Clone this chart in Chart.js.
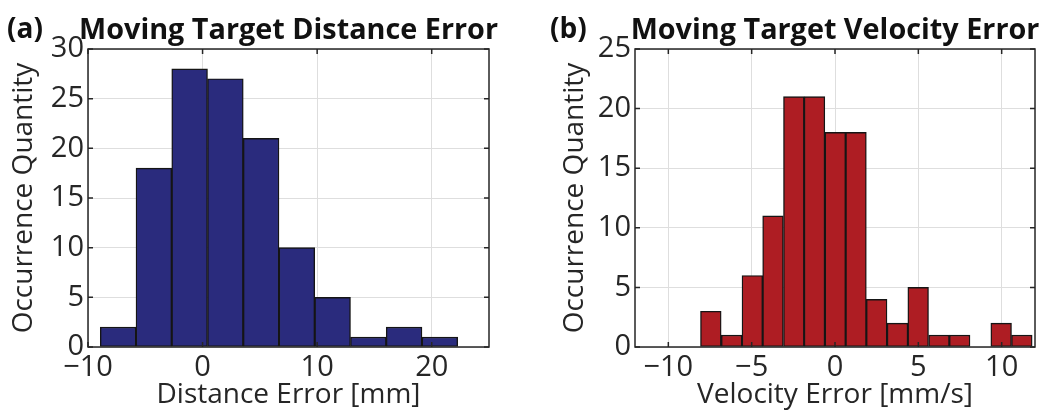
<!DOCTYPE html>
<html>
<head>
<meta charset="utf-8">
<script src="https://cdn.jsdelivr.net/npm/chart.js@4"></script>
<style>
  body { margin: 0; background: #fff; }
  .panel { position: absolute; top: 0; height: 411px; }
  #panelA { left: 0; width: 520px; }
  #panelB { left: 520px; width: 525px; }
</style>
</head>
<body>
<div class="panel" id="panelA"><canvas id="distanceChart"></canvas></div>
<div class="panel" id="panelB"><canvas id="velocityChart"></canvas></div>
<script>
// Distance error histogram: bin centres [mm] and counts
const distanceBins = [-7.37, -4.25, -1.13, 1.99, 5.11, 8.23, 11.35, 14.47, 17.59, 20.71];
const distanceCounts = [2, 18, 28, 27, 21, 10, 5, 1, 2, 1];
const distanceTicksX = [-10, 0, 10, 20];
const distanceTicksY = [0, 5, 10, 15, 20, 25, 30];

// Velocity error histogram: bin centres [mm/s] and counts
const velocityBins = [-7.45, -6.20, -4.96, -3.72, -2.47, -1.23, 0.02, 1.26, 2.50, 3.75, 4.99, 6.24, 7.48, 8.72, 9.97, 11.21];
const velocityCounts = [3, 1, 6, 11, 21, 21, 18, 18, 4, 2, 5, 1, 1, 0, 2, 1];
const velocityTicksX = [-10, -5, 0, 5, 10];
const velocityTicksY = [0, 5, 10, 15, 20, 25];

const FONT = "'Open Sans', sans-serif";
const INK = '#262626';
Chart.defaults.font.family = FONT;

// Box around the plot plus short inward tick marks on all four sides
const axesBox = {
    id: 'axesBox',
    afterDatasetsDraw(chart) {
        const { ctx, chartArea: a, scales: { x, y } } = chart;
        const len = 5;
        ctx.save();
        ctx.strokeStyle = INK;
        ctx.lineWidth = 1.5;
        ctx.beginPath();
        x.ticks.forEach(t => {
            const px = x.getPixelForValue(t.value);
            ctx.moveTo(px, a.bottom); ctx.lineTo(px, a.bottom - len);
            ctx.moveTo(px, a.top); ctx.lineTo(px, a.top + len);
        });
        y.ticks.forEach(t => {
            const py = y.getPixelForValue(t.value);
            ctx.moveTo(a.left, py); ctx.lineTo(a.left + len, py);
            ctx.moveTo(a.right, py); ctx.lineTo(a.right - len, py);
        });
        ctx.stroke();
        ctx.strokeRect(a.left, a.top, a.right - a.left, a.bottom - a.top);
        ctx.restore();
    }
};

// Panel letter on the left, bold title centred over the plot area
// (drawn by hand so the title is allowed to run wider than the axes)
const panelHeading = {
    id: 'panelHeading',
    afterDraw(chart, args, opts) {
        const { ctx, chartArea: a } = chart;
        ctx.save();
        ctx.fillStyle = '#111';
        ctx.textBaseline = 'alphabetic';
        ctx.font = `bold 28px ${FONT}`;
        ctx.textAlign = 'left';
        ctx.fillText(opts.letter, opts.letterX, 38);
        ctx.font = `bold 28.8px ${FONT}`;
        ctx.textAlign = 'center';
        ctx.fillText(opts.title, (a.left + a.right) / 2, 39);
        ctx.restore();
    }
};

const minusSign = v => String(v).replace('-', '\u2212');

function histogram(canvasId, cfg) {
    const ctx = document.getElementById(canvasId).getContext('2d');
    return new Chart(ctx, {
        type: 'bar',
        data: {
            datasets: [{
                data: cfg.bins.map((b, i) => ({ x: b, y: cfg.counts[i] })),
                backgroundColor: cfg.color,
                borderColor: '#151515',
                borderWidth: 1.4,
                borderSkipped: false,
                barPercentage: 1,
                categoryPercentage: 1
            }]
        },
        plugins: [axesBox, panelHeading],
        options: {
            responsive: true,
            maintainAspectRatio: false,
            animation: false,
            layout: { padding: { left: 0, right: cfg.padRight, top: 49, bottom: 0 } },
            plugins: {
                legend: { display: false },
                tooltip: { enabled: false },
                panelHeading: { letter: cfg.letter, letterX: cfg.letterX, title: cfg.title }
            },
            scales: {
                x: {
                    type: 'linear',
                    min: cfg.xMin,
                    max: cfg.xMax,
                    offset: false,
                    afterBuildTicks: s => { s.ticks = cfg.ticksX.map(v => ({ value: v })); },
                    afterFit: s => { s.height = 64; },
                    grid: { color: '#dedede', drawTicks: false, offset: false },
                    border: { display: false },
                    ticks: { color: INK, font: { size: 29 }, padding: 3, maxRotation: 0, callback: minusSign },
                    title: { display: true, text: cfg.xTitle, color: INK, font: { size: 28 }, padding: { top: 0, bottom: -1 } }
                },
                y: {
                    min: 0,
                    max: cfg.yMax,
                    afterBuildTicks: s => { s.ticks = cfg.ticksY.map(v => ({ value: v })); },
                    afterFit: s => { s.width = cfg.yWidth; },
                    grid: { color: '#dedede', drawTicks: false },
                    border: { display: false },
                    ticks: { color: INK, font: { size: 29 }, padding: 4 },
                    title: { display: true, text: 'Occurrence Quantity', color: INK, font: { size: 28 }, padding: { top: cfg.yTitlePad, bottom: 0 } }
                }
            }
        }
    });
}

histogram('distanceChart', {
    bins: distanceBins,
    counts: distanceCounts,
    color: '#2a2b7d',
    xMin: -10, xMax: 25, yMax: 30,
    ticksX: distanceTicksX,
    ticksY: distanceTicksY,
    title: 'Moving Target Distance Error',
    xTitle: 'Distance Error [mm]',
    letter: '(a)', letterX: 7,
    padRight: 31,
    yWidth: 88,
    yTitlePad: 7
});

histogram('velocityChart', {
    bins: velocityBins,
    counts: velocityCounts,
    color: '#ae1d23',
    xMin: -12, xMax: 12, yMax: 25,
    ticksX: velocityTicksX,
    ticksY: velocityTicksY,
    title: 'Moving Target Velocity Error',
    xTitle: 'Velocity Error [mm/s]',
    letter: '(b)', letterX: 30,
    padRight: 10,
    yWidth: 115,
    yTitlePad: 38
});
</script>
</body>
</html>
